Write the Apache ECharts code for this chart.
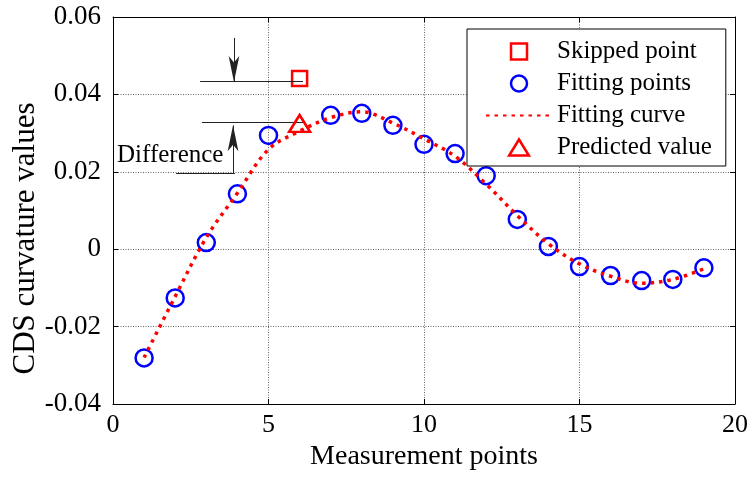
<!DOCTYPE html>
<html><head><meta charset="utf-8">
<script src="https://cdn.jsdelivr.net/npm/echarts@6/dist/echarts.min.js"></script>
<style>html,body{margin:0;padding:0;background:#fff}#c{width:751px;height:477px}</style>
</head><body><div id="c"></div>
<script>
// ---- data ----
const pointX = [1, 2, 3, 4, 5, 7, 8, 9, 10, 11, 12, 13, 14, 15, 16, 17, 18, 19];
const fittingPoints = [-0.0281, -0.0126, 0.0017, 0.0143, 0.0294, 0.0346, 0.0351, 0.0320, 0.0271, 0.0247, 0.0190, 0.0077, 0.0007, -0.0045, -0.0068, -0.0081, -0.0078, -0.0048];
const skippedX = [6];
const skippedY = [0.0441];
const predictedX = [6];
const predictedY = [0.0325];
const curveX = [1, 2, 3, 4, 5, 6, 7, 8, 9, 10, 11, 12, 13, 14, 15, 16, 17, 18, 19];
const curveY = [-0.0280, -0.0122, 0.0030, 0.0145, 0.0258, 0.0305, 0.0340, 0.0355, 0.0326, 0.0285, 0.0240, 0.0168, 0.0087, 0.0014, -0.0038, -0.0070, -0.0088, -0.0078, -0.0051];
const xTickLabels = ['0', '5', '10', '15', '20'];
const yTickLabels = ['-0.04', '-0.02', '0', '0.02', '0.04', '0.06'];
const legendNames = ['Skipped point', 'Fitting points', 'Fitting curve', 'Predicted value'];
const annotationText = 'Difference';
// annotation guide lines (data coordinates)
const guideLines = [[[2.80, 0.0434], [6.11, 0.0434]], [[2.86, 0.0327], [6.11, 0.0327]], [[2.03, 0.0196], [3.92, 0.0196]]];
const guideArrows = [[[3.89, 0.0546], [3.89, 0.0432]], [[3.86, 0.0196], [3.86, 0.0320]]];
const textAnchor = [0.13, 0.0243];

// ---- chart ----
const FONT = 'Liberation Serif';
const RED = '#ff0000', BLUE = '#0000ff';
const zip = (xs, ys) => xs.map((x, i) => [x, ys[i]]);
const xMin = Number(xTickLabels[0]), xMax = Number(xTickLabels[xTickLabels.length - 1]);
const xStep = Number(xTickLabels[1]) - Number(xTickLabels[0]);
const yMin = Number(yTickLabels[0]), yMax = Number(yTickLabels[yTickLabels.length - 1]);
const yStep = Number(yTickLabels[1]) - Number(yTickLabels[0]);
const fmtY = v => yTickLabels[Math.round((v - yMin) / yStep)];
const fmtX = v => xTickLabels[Math.round((v - xMin) / xStep)];

const gridLine = { show: true, lineStyle: { color: '#666', width: 1, type: [1, 1.5] } };
const axLine = { show: true, onZero: false, lineStyle: { color: '#000', width: 1 } };
const tick = { show: true, inside: true, length: 5, lineStyle: { color: '#000' } };
const hollow = c => ({ color: 'rgba(255,255,255,0)', borderColor: c, borderWidth: 2.5, opacity: 1 });

const chart = echarts.init(document.getElementById('c'), null, { renderer: 'canvas' });
chart.setOption({
  animation: false,
  backgroundColor: '#fff',
  textStyle: { fontFamily: FONT, color: '#000' },
  grid: { left: 113, right: 16, top: 17, bottom: 73, containLabel: false, outerBoundsMode: 'none' },
  legend: {
    data: [
      { name: legendNames[0], icon: 'path://M0,0H15V15H0Z', itemStyle: hollow(RED) },
      { name: legendNames[1], icon: 'circle', itemStyle: hollow(BLUE) },
      { name: legendNames[2], itemStyle: { opacity: 0 } },
      { name: legendNames[3], icon: 'path://M10.5,0L21,17H0Z', itemStyle: hollow(RED) }
    ],
    orient: 'vertical', left: 467, top: 29,
    align: 'left', symbolKeepAspect: true,
    itemWidth: 66, itemHeight: 16, itemGap: 7,
    padding: [10, 14, 6, 18],
    borderColor: '#000', borderWidth: 1, backgroundColor: '#fff',
    textStyle: { fontFamily: FONT, fontSize: 25, color: '#000' },
    selectedMode: false
  },
  xAxis: [{
    type: 'value', min: xMin, max: xMax, interval: xStep, position: 'bottom',
    axisLine: axLine, axisTick: tick, splitLine: gridLine,
    axisLabel: { fontFamily: FONT, fontSize: 26, color: '#000', margin: 8, formatter: fmtX },
    name: 'Measurement points', nameLocation: 'middle', nameGap: 39, nameMoveOverlap: false,
    nameTextStyle: { fontFamily: FONT, fontSize: 28, color: '#000' }
  }, {
    type: 'value', min: xMin, max: xMax, interval: xStep, position: 'top',
    axisLine: axLine, axisTick: tick, splitLine: { show: false }, axisLabel: { show: false }
  }],
  yAxis: [{
    type: 'value', min: yMin, max: yMax, interval: yStep, position: 'left',
    axisLine: axLine, axisTick: tick, splitLine: gridLine,
    axisLabel: { fontFamily: FONT, fontSize: 27, color: '#000', margin: 12, formatter: fmtY },
    name: 'CDS curvature values', nameLocation: 'middle', nameGap: 72, nameMoveOverlap: false,
    nameTextStyle: { fontFamily: FONT, fontSize: 31, color: '#000', padding: [0, 56, 0, 0] }
  }, {
    type: 'value', min: yMin, max: yMax, interval: yStep, position: 'right',
    axisLine: axLine, axisTick: tick, splitLine: { show: false }, axisLabel: { show: false }
  }],
  series: [
    {
      name: legendNames[0], type: 'scatter', data: zip(skippedX, skippedY),
      symbol: 'rect', symbolSize: 15, itemStyle: hollow(RED), z: 3
    },
    {
      name: legendNames[1], type: 'scatter', data: zip(pointX, fittingPoints),
      symbol: 'circle', symbolSize: 17, itemStyle: hollow(BLUE), z: 3
    },
    {
      name: legendNames[2], type: 'line', data: zip(curveX, curveY),
      smooth: 0.35, symbol: 'none', showSymbol: false,
      lineStyle: { color: RED, width: 3.5, type: [3.5, 5], cap: 'butt' },
      itemStyle: { color: RED },
      z: 4
    },
    {
      name: legendNames[3], type: 'scatter', data: zip(predictedX, predictedY),
      symbol: 'triangle', symbolSize: [21, 17], itemStyle: hollow(RED), z: 5
    },
    {
      name: 'annotation', type: 'line', data: [], silent: true, z: 2,
      markLine: {
        silent: true, animation: false,
        label: { show: false },
        lineStyle: { color: '#222', width: 1, type: 'solid' },
        data: [
          ...guideLines.map(l => [{ coord: l[0], symbol: 'none' }, { coord: l[1], symbol: 'none' }]),
          ...guideArrows.map(l => [{ coord: l[0], symbol: 'none' }, { coord: l[1], symbol: 'arrow', symbolSize: [8, 26] }])
        ]
      },
      markPoint: {
        silent: true, animation: false,
        symbol: 'rect', symbolSize: 0,
        label: { show: true, position: 'right', distance: 0, formatter: annotationText, fontFamily: FONT, fontSize: 25, color: '#000' },
        data: [{ coord: textAnchor }]
      }
    }
  ]
});
</script>
</body></html>
